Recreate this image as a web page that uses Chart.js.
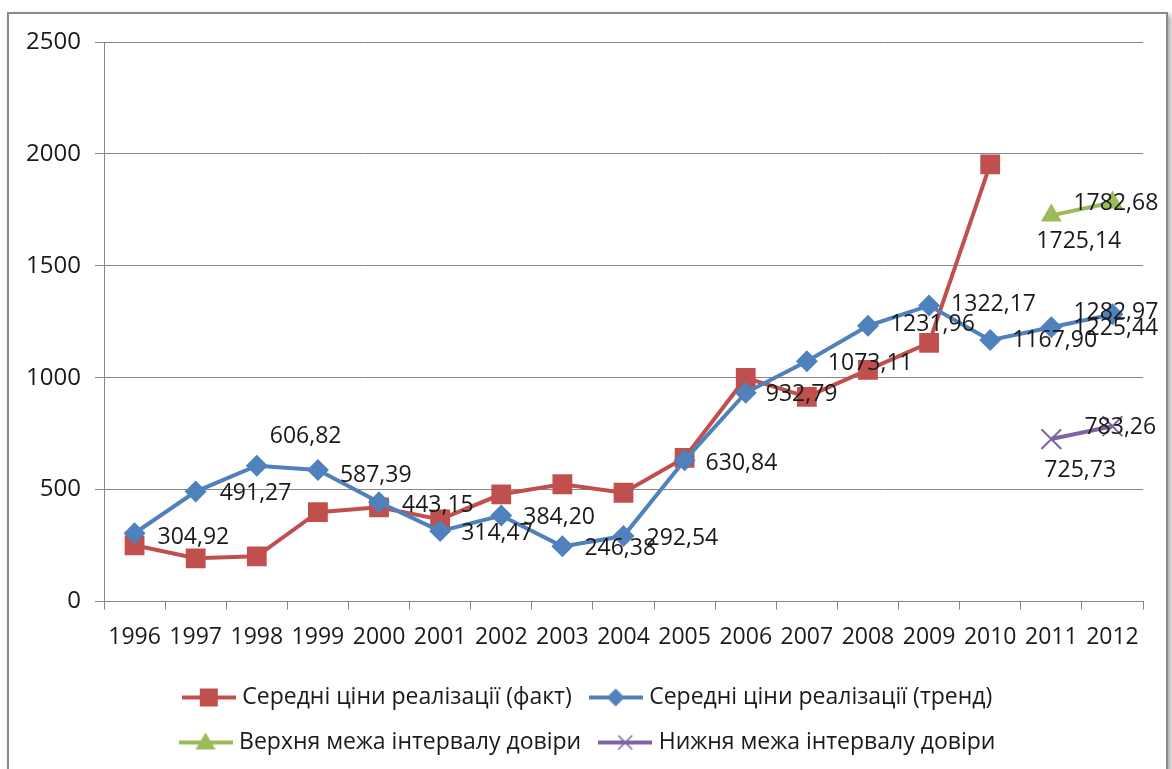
<!DOCTYPE html>
<html>
<head>
<meta charset="utf-8">
<script src="https://cdn.jsdelivr.net/npm/chart.js@4.4.1/dist/chart.umd.min.js"></script>
<style>
    html, body { margin: 0; padding: 0; background: #fff; overflow: hidden; }
    #frame {
        position: absolute; left: 7px; top: 12px; width: 1157px; height: 800px;
        border: 2px solid #8a8a8a; background: #fff;
        box-shadow: 3px 3px 5px rgba(0, 0, 0, 0.35);
    }
    #priceChart { position: absolute; left: 0; top: 0; }
</style>
</head>
<body>
<div id="frame"></div>
<canvas id="priceChart" width="1172" height="800"></canvas>
<script>
// дані з графіка
const years = ['1996', '1997', '1998', '1999', '2000', '2001', '2002', '2003', '2004',
               '2005', '2006', '2007', '2008', '2009', '2010', '2011', '2012'];
const factPrices = [251, 193, 202, 399, 421, 367, 479, 524, 486,
                    642, 999, 914, 1035, 1156, 1953, null, null];
const trendPrices = [304.92, 491.27, 606.82, 587.39, 443.15, 314.47, 384.20, 246.38, 292.54,
                     630.84, 932.79, 1073.11, 1231.96, 1322.17, 1167.90, 1225.44, 1282.97];
const upperBound = [null, null, null, null, null, null, null, null, null,
                    null, null, null, null, null, null, 1725.14, 1782.68];
const lowerBound = [null, null, null, null, null, null, null, null, null,
                    null, null, null, null, null, null, 725.73, 783.26];
const yTicks = [0, 500, 1000, 1500, 2000, 2500];

// зсув підписів відносно точки (px)
const trendLabelShift = [[23, 4], [24, 2], [13, -29], [22, 5], [23, 3], [21, 2], [22, 2], [22, 2], [23, 2],
                         [21, 3], [20, 2], [21, 2], [22, -1], [22, -1], [22, 0], [22, 1], [-39, -2]];
const upperLabelShift = [null, null, null, null, null, null, null, null, null,
                         null, null, null, null, null, null, [-15, 26], [-39, 1]];
const lowerLabelShift = [null, null, null, null, null, null, null, null, null,
                         null, null, null, null, null, null, [-7, 31], [-28, 1]];

const FONT = '"Open Sans", "Noto Sans", sans-serif';
const TEXT = '#1a1a1a';
const GRID = '#868686';

function legendIcon(color, style) {
    const c = document.createElement('canvas');
    c.width = 54; c.height = 24;
    const g = c.getContext('2d');
    g.strokeStyle = color; g.fillStyle = color;
    g.lineWidth = 4;
    g.beginPath(); g.moveTo(0, 12); g.lineTo(54, 12); g.stroke();
    g.beginPath();
    if (style === 'rect') {
        g.rect(18, 3, 18, 18); g.fill();
    } else if (style === 'rectRot') {
        g.moveTo(27, 3); g.lineTo(36, 12); g.lineTo(27, 21); g.lineTo(18, 12); g.closePath(); g.fill();
    } else if (style === 'triangle') {
        g.moveTo(27, 2); g.lineTo(37, 19); g.lineTo(17, 19); g.closePath(); g.fill();
    } else {
        g.lineWidth = 1.5;
        g.moveTo(20, 5); g.lineTo(34, 19); g.moveTo(34, 5); g.lineTo(20, 19); g.stroke();
    }
    return c;
}

const icons = [
    legendIcon('#C0504D', 'rect'),
    legendIcon('#4F81BD', 'rectRot'),
    legendIcon('#9BBB59', 'triangle'),
    legendIcon('#8064A2', 'crossRot')
];

const valueLabels = {
    id: 'valueLabels',
    afterDatasetsDraw(chart) {
        const ctx = chart.ctx;
        ctx.save();
        ctx.font = '23px ' + FONT;
        ctx.fillStyle = TEXT;
        ctx.textAlign = 'left';
        ctx.textBaseline = 'middle';
        chart.data.datasets.forEach((ds, di) => {
            if (!ds.labelShift) return;
            chart.getDatasetMeta(di).data.forEach((pt, i) => {
                const v = ds.data[i];
                const s = ds.labelShift[i];
                if (v == null || !s) return;
                ctx.fillText(v.toFixed(2).replace('.', ','), pt.x + s[0], pt.y + s[1]);
            });
        });
        ctx.restore();
    }
};

// легенда трохи правіше, як в Excel
const legendShift = {
    id: 'legendShift',
    afterLayout(chart) {
        chart.legend.left += 18;
        chart.legend.right += 18;
    }
};

new Chart(document.getElementById('priceChart'), {
    type: 'line',
    data: {
        labels: years,
        datasets: [{
            label: 'Середні ціни реалізації (факт)',
            data: factPrices,
            borderColor: '#C0504D',
            backgroundColor: '#C0504D',
            borderWidth: 4,
            pointStyle: 'rect',
            pointRadius: 14,
            pointBorderWidth: 0,
            order: 4
        }, {
            label: 'Середні ціни реалізації (тренд)',
            data: trendPrices,
            borderColor: '#4F81BD',
            backgroundColor: '#4F81BD',
            borderWidth: 4,
            pointStyle: 'rectRot',
            pointRadius: 11,
            pointBorderWidth: 0,
            labelShift: trendLabelShift,
            order: 3
        }, {
            label: 'Верхня межа інтервалу довіри',
            data: upperBound,
            borderColor: '#9BBB59',
            backgroundColor: '#9BBB59',
            borderWidth: 4,
            pointStyle: 'triangle',
            pointRadius: 12,
            pointBorderWidth: 0,
            labelShift: upperLabelShift,
            order: 2
        }, {
            label: 'Нижня межа інтервалу довіри',
            data: lowerBound,
            borderColor: '#8064A2',
            backgroundColor: '#8064A2',
            borderWidth: 4,
            pointStyle: 'crossRot',
            pointRadius: 14,
            pointBorderWidth: 2,
            labelShift: lowerLabelShift,
            order: 1
        }]
    },
    options: {
        responsive: false,
        animation: false,
        layout: { padding: { left: 0, right: 29, top: 42, bottom: 36 } },
        elements: { line: { tension: 0 } },
        scales: {
            x: {
                offset: true,
                afterFit: s => { s.height = 62.5; },
                grid: { offset: true, drawOnChartArea: false, tickLength: 8, color: GRID },
                border: { color: GRID },
                ticks: { font: { family: FONT, size: 23 }, color: TEXT, padding: 14, maxRotation: 0, autoSkip: false }
            },
            y: {
                min: 0,
                max: 2500,
                afterFit: s => { s.width = 104; },
                afterBuildTicks: s => { s.ticks = yTicks.map(v => ({ value: v })); },
                grid: { color: GRID, tickLength: 9 },
                border: { color: GRID },
                ticks: { font: { family: FONT, size: 24 }, color: TEXT, padding: 14, callback: v => String(v) }
            }
        },
        plugins: {
            tooltip: { enabled: false },
            legend: {
                position: 'bottom',
                labels: {
                    usePointStyle: true,
                    pointStyleWidth: 44,
                    padding: 22,
                    color: TEXT,
                    font: { family: FONT, size: 23 },
                    generateLabels: chart => Chart.defaults.plugins.legend.labels.generateLabels(chart)
                        .sort((a, b) => a.datasetIndex - b.datasetIndex)
                        .map(item => Object.assign(item, { pointStyle: icons[item.datasetIndex] }))
                }
            }
        }
    },
    plugins: [valueLabels, legendShift]
});
</script>
</body>
</html>
